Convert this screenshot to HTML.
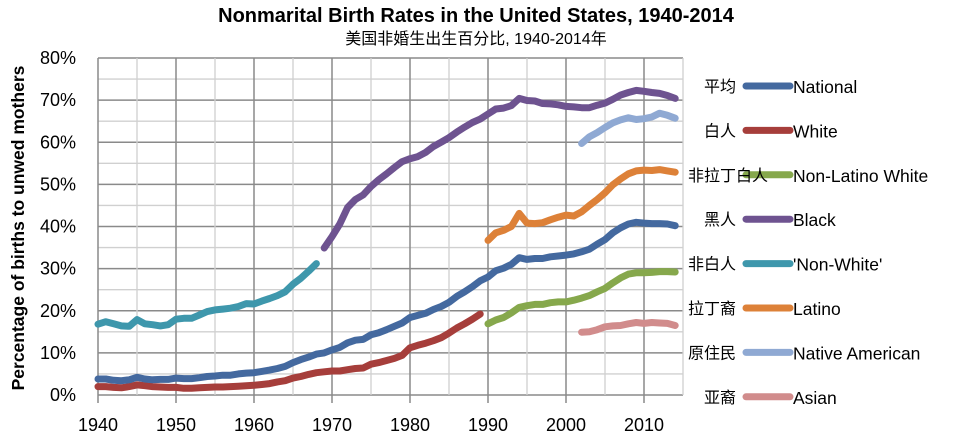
<!DOCTYPE html>
<html><head><meta charset="utf-8">
<style>
body{margin:0;background:#fff;}
svg text{font-family:"Liberation Sans","Noto Sans CJK SC",sans-serif;}
</style></head>
<body>
<svg id="chart" width="960" height="443" viewBox="0 0 960 443" xmlns="http://www.w3.org/2000/svg">
<text x="476" y="22" text-anchor="middle" font-size="20" font-weight="bold" fill="#000">Nonmarital Birth Rates in the United States, 1940-2014</text>
<text x="476" y="44" text-anchor="middle" font-size="16" fill="#000">美国非婚生出生百分比, 1940-2014年</text>
<text transform="translate(24,228) rotate(-90)" text-anchor="middle" font-size="17.5" font-weight="bold" fill="#000">Percentage of births to unwed mothers</text>
<g id="grid"></g><g id="ticks"></g><g id="series"></g><g id="legend"></g>
</svg>
<script>
const years0 = 1940;
const national = [3.8,3.8,3.5,3.4,3.6,4.2,3.8,3.6,3.7,3.7,4.0,3.9,3.9,4.1,4.4,4.5,4.7,4.7,5.0,5.2,5.3,5.6,5.9,6.3,6.8,7.7,8.4,9.0,9.7,10.0,10.7,11.3,12.4,13.0,13.2,14.3,14.8,15.5,16.3,17.1,18.4,18.9,19.4,20.3,21.0,22.0,23.4,24.5,25.7,27.1,28.0,29.5,30.1,31.0,32.6,32.2,32.4,32.4,32.8,33.0,33.2,33.5,34.0,34.6,35.8,36.9,38.5,39.7,40.6,41.0,40.8,40.7,40.7,40.6,40.2];
const white = [2.0,2.0,1.8,1.7,2.0,2.4,2.2,2.0,1.9,1.8,1.8,1.6,1.6,1.7,1.8,1.9,1.9,2.0,2.1,2.2,2.3,2.5,2.7,3.1,3.4,4.0,4.4,4.9,5.3,5.5,5.7,5.7,6.0,6.3,6.4,7.3,7.7,8.2,8.7,9.4,11.2,11.8,12.3,12.9,13.6,14.7,15.9,16.9,18.0,19.2];
const nonLatinoWhite = [16.9,17.8,18.4,19.5,20.8,21.2,21.5,21.5,21.9,22.1,22.1,22.5,23.0,23.6,24.5,25.3,26.6,27.8,28.7,29.0,29.0,29.1,29.3,29.3,29.2];
const black = [34.9,37.6,40.6,44.5,46.4,47.5,49.5,51.1,52.5,54.0,55.4,56.1,56.6,57.6,59.0,60.0,61.1,62.4,63.6,64.7,65.5,66.7,67.9,68.1,68.7,70.4,69.9,69.8,69.2,69.1,68.9,68.5,68.4,68.2,68.2,68.8,69.3,70.2,71.2,71.8,72.3,72.1,71.8,71.6,71.1,70.4];
const nonWhite = [16.8,17.4,16.9,16.4,16.3,17.9,16.9,16.7,16.4,16.7,18.0,18.2,18.2,19.0,19.8,20.2,20.4,20.6,21.0,21.7,21.6,22.3,22.9,23.6,24.5,26.3,27.7,29.4,31.2];
const latino = [36.7,38.5,39.1,40.0,43.1,40.8,40.7,40.9,41.6,42.2,42.7,42.5,43.5,45.0,46.4,48.0,49.9,51.3,52.5,53.2,53.4,53.3,53.5,53.2,52.9];
const nativeAmerican = [59.7,61.3,62.3,63.5,64.6,65.3,65.8,65.4,65.6,66.0,66.9,66.4,65.7];
const asian = [14.9,15.0,15.5,16.2,16.4,16.5,16.9,17.2,17.0,17.2,17.1,17.0,16.5];
const startYears = [1940,1940,1990,1969,1940,1990,2002,2002];
const labelsEn = ["National","White","Non-Latino White","Black","'Non-White'","Latino","Native American","Asian"];
const labelsZh = ["平均","白人","非拉丁白人","黑人","非白人","拉丁裔","原住民","亚裔"];
const xTicks = [1940,1950,1960,1970,1980,1990,2000,2010];
const yTicks = [0,10,20,30,40,50,60,70,80];

const NS="http://www.w3.org/2000/svg";
const X=y=>98+(y-1940)*7.8;
const Y=v=>395-v*4.2125;
function mk(t,a,p){const e=document.createElementNS(NS,t);for(const k in a)e.setAttribute(k,a[k]);p.appendChild(e);return e;}
const grid=document.getElementById('grid'),ticks=document.getElementById('ticks'),ser=document.getElementById('series'),leg=document.getElementById('legend');
for(let v=0;v<=80;v+=5){const l=mk('line',{x1:X(1940),x2:X(2015),y1:Y(v),y2:Y(v),stroke:v%10?'#d0d0d0':'#8a8a8a','stroke-width':v%10?1.3:1.5},grid);
}
for(let y=1940;y<=2015;y+=5){const l=mk('line',{x1:X(y),x2:X(y),y1:Y(80),y2:Y(0)+(y%10?0:8),stroke:y%10?'#d0d0d0':'#8a8a8a','stroke-width':y%10?1.3:1.5},grid);
}
yTicks.forEach(v=>{const t=mk('text',{x:76,y:Y(v)+6,'text-anchor':'end','font-size':18,fill:'#000'},ticks);t.textContent=v+'%';
});
xTicks.forEach(y=>{const t=mk('text',{x:X(y),y:431,'text-anchor':'middle','font-size':18,fill:'#000'},ticks);t.textContent=y;
});
const data=[national,white,nonLatinoWhite,black,nonWhite,latino,nativeAmerican,asian];
const colors=['#44699f','#a63e3b','#86a84c','#6e5390','#3e97ac','#dd8138','#8fa9d3','#d18c8c'];
const order=[4,1,0,3,5,2,6,7];
order.forEach(i=>{const d=data[i].map((v,k)=>(k?'L':'M')+X(startYears[i]+k).toFixed(1)+','+Y(v).toFixed(1)).join('');
const p=mk('path',{d:d,fill:'none',stroke:colors[i],'stroke-width':7,'stroke-linecap':'round','stroke-linejoin':'round'},ser);
});
labelsEn.forEach((s,i)=>{const y=86+i*44.4;
const l=mk('line',{x1:746,x2:790,y1:y,y2:y,stroke:colors[i],'stroke-width':7,'stroke-linecap':'round'},leg);

const wide=(i==2||i==4||i==6||i==5);
const z=mk('text',{x:wide?688:736,y:y+6,'text-anchor':wide?'start':'end','font-size':16,fill:'#000'},leg);z.textContent=labelsZh[i];

const t=mk('text',{x:793,y:y+7,'font-size':17.5,fill:'#000'},leg);t.textContent=s;
});
</script>
</body></html>
